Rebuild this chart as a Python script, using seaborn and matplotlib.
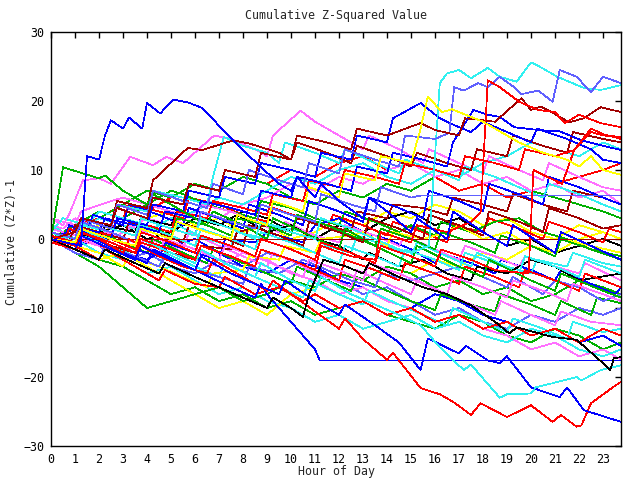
import matplotlib
matplotlib.use("Agg")
import matplotlib.pyplot as plt
import pandas as pd
import seaborn as sns

# ---------------- data ----------------
HOURS = list(range(24)) + [23.75]
X_TICKS = list(range(24))
Y_TICKS = [-30, -20, -10, 0, 10, 20, 30]

# series given as (hour, value) vertices
blue_peak = [(0, 0), (1.25, -1), (1.5, 12), (2, 11.5), (2.25, 15), (2.5, 17.2), (3, 16), (3.25, 17.6), (3.8, 16),
             (4, 19.7), (4.55, 18.2), (5.1, 20.2), (5.7, 19.8), (6.3, 19), (7.2, 15.7), (8.3, 11.9), (9.5, 8),
             (10, 7), (10.25, 9), (11, 6), (11.25, 8), (12, 5.5), (13, 3), (13.25, 6), (14, 4), (15, 1), (15.25, 3),
             (16.5, 0), (16.75, 4), (18, 1), (19, -1), (19.25, 2), (21, -2), (21.25, 1), (23.75, -3)]
green_early = [(0, 0), (0.5, 10.4), (1.33, 9.5), (2, 8.8), (2.25, 9.2), (3, 7), (4, 5), (4.25, 6.5), (5.5, 4),
               (6.5, 2), (6.75, 4), (8, 2), (9, 0), (9.25, 3), (10.5, 1), (12, -1.5), (12.25, 1.5), (13.5, -1),
               (15, -3.5), (15.25, -1), (17, -4), (18, -5.5), (18.25, -3), (20, -6), (21, -7.5), (21.25, -5),
               (23, -7.5), (23.75, -8.5)]
blue_flat_low = [(0, 0), (1, -1.5), (1.25, 1), (3, -2), (4, -3.5), (4.25, -1.5), (6, -4.5), (7.5, -7), (8.5, -8.5),
                 (8.75, -6.5), (9, -8), (10, -12), (11, -16), (11.2, -17.6), (23.75, -17.6)]
mblue_flat = [(0, 1), (1, 0), (1.25, 2.5), (2.5, 1), (3.5, -0.5), (3.75, 3), (5, 1.5), (6, 0.5), (6.25, 4),
              (7.5, 2.5), (8.5, 1.5), (8.75, 5), (10, 3.5), (11, 2.5), (11.25, 6.5), (12.5, 5), (13.5, 4),
              (13.75, 7.5), (15, 6), (15.4, 6.3), (23.75, 6.3)]
red_zero = [(0, 0), (23.75, 0)]
darkred_zero = [(0, 0), (23.75, 0)]
red_bottom = [(0, 0), (0.5, -1), (0.75, 1.5), (2, 0), (3, -2), (3.25, 0), (4.5, -2.5), (5.5, -4), (6.5, -5),
              (6.75, -3), (8, -5.5), (9, -7.5), (9.25, -6), (10, -8), (11, -10.5), (12, -13), (12.25, -11.5),
              (13, -14.5), (14, -17.5), (14.25, -16.5), (15.4, -21.6), (16.2, -22.5), (16.8, -23.7), (17.5, -25.5),
              (17.9, -23.8), (19, -25.8), (20, -24.1), (20.9, -26.5), (21.25, -25.5), (21.9, -27.2), (22.1, -27),
              (22.5, -23.8), (23.45, -21.4), (23.75, -20.7)]
blue_bottom = [(0, 0), (1, -1.5), (1.25, 0.5), (2.5, -1.5), (3.5, -3), (3.75, -1), (5, -3), (6, -4.5), (6.25, -2.5),
               (7.5, -5), (8.5, -6.5), (9.5, -8), (9.75, -6), (11, -9), (12, -11), (12.25, -9.5), (13.5, -12.5),
               (14.5, -15), (15.4, -19), (15.7, -14.4), (17, -16.6), (17.3, -15.5), (18.2, -17.6), (18.7, -18),
               (19, -17), (20, -21.5), (21.2, -22.9), (21.5, -21.5), (22.2, -24.8), (23.75, -26.5)]
cyan_bottom = [(0, 1), (1, -0.5), (1.25, 1.5), (2.5, -0.5), (3.5, -2), (3.75, 0), (5, -2), (6, -3.5), (6.25, -1.5),
               (7.5, -4), (8.5, -5.5), (8.75, -3.5), (10, -6), (11, -7.5), (11.25, -5.5), (12.5, -8), (13.5, -9.5),
               (14.5, -11), (15.4, -12.5), (16.2, -15.7), (17.2, -19), (17.5, -18.2), (18.7, -23), (19, -22.5),
               (20, -22.4), (20.2, -21.5), (20.9, -20.9), (21.9, -20), (22.1, -20.5), (22.9, -19), (23.75, -18.3)]
black_low = [(0, 0), (1, -1.5), (2, -3), (2.25, -1.5), (3.5, -3.5), (4.5, -5), (4.75, -3.5), (6, -5.5), (7, -7),
             (8, -8.5), (9, -10), (9.25, -8.5), (10, -10), (10.5, -11.3), (10.75, -8), (11.35, -3), (12.3, -4),
             (13, -5), (13.25, -3.5), (14.5, -5.5), (15.5, -7), (16.5, -8), (17.5, -9.6), (18.5, -12), (19.1, -13.7),
             (19.4, -12.8), (20.9, -14.2), (21.9, -14.6), (23, -18), (23.3, -19), (23.45, -17.3), (23.75, -17.1)]
cyan_top = [(0, 0), (1, 1), (1.25, 3), (2.5, 1.5), (3.5, 0.5), (3.75, 3), (5, 1.5), (6, 0.5), (6.25, 3), (7.5, 1.5),
            (8.5, 0), (8.75, 2.5), (10, 1), (11, 0), (11.25, 3), (12.5, 1.5), (13.5, 0), (14.5, -1.5), (15, -2),
            (15.75, -1), (16.2, 22.6), (16.5, 24), (17, 24.5), (17.5, 23.3), (18.2, 24.8), (18.7, 23.5),
            (19.4, 22.8), (20, 25.6), (20.4, 24.9), (21.1, 23.5), (22.2, 21.9), (22.9, 21.6), (23.75, 22.3)]
mblue_top = [(0, 1), (1, 0), (1.25, 3), (2.5, 1.5), (2.75, 5), (4, 3.5), (4.25, 7), (5.5, 5.5), (6.5, 4.5),
             (6.75, 8), (8, 6.5), (8.25, 10), (9.5, 8.5), (10.5, 7.5), (10.75, 11), (12, 9.5), (12.25, 13),
             (13.5, 11.5), (14.5, 10.5), (14.75, 15), (16, 14.5), (16.6, 15.4), (16.8, 22), (17.2, 21.5),
             (17.8, 22.6), (18.2, 22), (18.7, 23.5), (19.3, 22), (19.6, 21), (20.3, 21.5), (20.9, 19.9),
             (21.2, 24.5), (21.9, 23.5), (22.5, 21.3), (23, 23.5), (23.75, 22.6)]
darkred_top = [(0, 0), (1, 1), (1.25, 3), (2.5, 2), (2.75, 4.5), (4, 3), (4.25, 6), (5.5, 5), (5.75, 8), (7, 7),
               (7.25, 10), (8.5, 9), (8.75, 12.5), (10, 11.5), (10.25, 15), (11.5, 14), (12.5, 13), (12.75, 16),
               (14, 15), (15.4, 16.8), (16, 15.8), (17, 15), (17.25, 17.5), (18.5, 17), (19.6, 20.4), (20, 18.7),
               (20.4, 19.2), (20.9, 18.3), (21.6, 16.9), (22.2, 17.5), (22.9, 19.1), (23.75, 18.4)]
red_jump = [(0, 0), (1, -1), (1.25, 1), (2.5, -0.5), (3.5, -2), (3.75, 0), (5, -1.5), (6, -3), (6.25, -1),
            (7.5, -2.5), (8.5, -4), (8.75, -1.5), (10, -3), (11, -4.5), (11.25, -1), (12.5, -2.5), (13.5, -3),
            (13.75, 1), (15, -0.5), (15.25, 2), (16.5, 1), (17.5, 2.5), (17.9, 3.8), (18.2, 23), (18.7, 22),
            (19.5, 19.9), (20.3, 18.7), (21, 18.4), (21.4, 16.8), (22, 18), (22.9, 16.8), (23.75, 16.2)]
red_jump2 = [(0, 0.5), (1, -0.5), (1.25, 1.5), (2.5, 0), (3.5, -1.5), (3.75, 1), (5, -0.5), (6, -2), (6.25, 0.5),
             (7.5, -1), (8.5, -2.5), (8.75, 0), (10, -1.5), (11, -3), (11.25, -0.5), (12.5, -2), (13.5, -3.5),
             (13.75, -1), (15, -2.5), (16, -4), (16.25, -1.5), (17.5, -3), (18.5, -4.5), (19.9, -5),
             (20.1, 10), (20.5, 9.3), (21.3, 8), (21.8, 12.9), (22.5, 16), (23, 15.2), (23.75, 14.5)]
yellow_top = [(0, 0), (1, -0.5), (1.25, 1.5), (2.5, 0), (3.5, -1), (3.75, 1.5), (5, 0), (5.25, 2.5), (6.5, 1),
              (7.5, 0), (7.75, 3.5), (9, 2), (9.25, 5.5), (10.5, 4), (10.75, 7.5), (12, 6), (12.25, 9.5),
              (13.5, 8.5), (13.75, 12), (15, 11), (15.4, 16), (15.7, 20.6), (16.3, 18.4), (16.7, 18.8), (17.5, 17.7),
              (18, 17), (18.5, 16), (19.5, 14), (20.5, 12.5), (21.5, 11.5), (22, 10.5), (22.5, 12), (23, 10),
              (23.75, 9.3)]
magenta_up = [(0, 3), (0.5, 2), (0.75, 3.5), (1.33, 8.5), (2, 8.8), (2.5, 8), (3.3, 11.9), (4.25, 10.7),
              (4.8, 11.9), (5.5, 11), (6.8, 15), (7.5, 14.5), (8.5, 13), (9, 12), (9.25, 15), (10.4, 18.6), (11, 17),
              (11.5, 16), (12.5, 14), (13, 13), (13.25, 15), (14.5, 13), (15.5, 11), (15.75, 13), (17, 11),
              (18, 9.5), (18.25, 12), (19.5, 10), (20.5, 8.5), (20.75, 11), (22, 9), (23, 7.5), (23.75, 7)]
cyan_up = [(0, 0), (1, 1), (1.25, 3), (2.5, 2), (2.75, 5), (4, 4), (4.25, 7), (5.5, 6), (6.5, 5), (6.75, 9),
           (7.2, 14.8), (8, 13.5), (9, 12.5), (9.5, 11), (9.75, 14), (11, 12.5), (12, 11), (12.25, 13), (13.5, 11),
           (14.5, 9.5), (14.75, 11.5), (16, 10), (17, 8.5), (17.25, 10.5), (18.5, 9), (19.5, 7.5), (20.5, 6),
           (20.75, 8), (22, 6.5), (23, 5), (23.75, 4)]
darkred_up = [(0, 0), (1, 1), (1.25, 3), (2.5, 2), (2.75, 5.5), (4, 4.5), (4.25, 8.5), (5.7, 13.2), (6.3, 12.9),
              (7.6, 14.3), (8.3, 13.8), (9.5, 12.5), (10, 11.5), (10.25, 14), (11.5, 12.5), (12.5, 11),
              (12.75, 13.5), (14, 12), (15, 10.5), (15.25, 12.5), (16.5, 11), (17.5, 10), (17.75, 13), (19, 12),
              (19.25, 15), (20.5, 13.5), (21.5, 12.5), (21.75, 15.5), (23, 14.5), (23.75, 14)]
red_up = [(0, 0), (1, -0.5), (1.25, 1.5), (2.5, 0.5), (2.75, 3), (4, 2), (5, 1), (5.25, 4), (6.5, 3), (6.75, 5.5),
          (8, 4.5), (9, 3.5), (9.25, 6.5), (10.5, 5.5), (10.75, 8.5), (12, 7.5), (12.25, 10), (13.5, 9), (14.5, 8),
          (14.75, 11), (16, 10), (17, 9), (17.25, 12), (18.5, 11), (19.5, 10), (19.75, 13), (21, 12), (21.8, 12.9),
          (22.5, 15.5), (23, 15), (23.75, 14.8)]
blue_up = [(0, 0), (1, 1.5), (2, 1), (2.25, 3), (3.5, 2), (4.5, 1), (4.75, 4), (6, 3), (6.25, 5.5), (7.5, 4.5),
           (8.5, 3.5), (8.75, 7), (10, 6), (10.25, 9), (11.5, 8), (12.5, 7), (12.75, 10.5), (14, 9.5),
           (14.25, 12.5), (15.5, 11.5), (16.5, 10.5), (16.75, 14), (17.6, 18.7), (18.2, 18), (18.7, 17.7),
           (19.3, 16.2), (20.3, 15.8), (21.2, 15.6), (22.1, 14.3), (23, 13.5), (23.75, 12.9)]
blue_high = [(0, 0), (1, -1), (1.25, 1), (2.5, 0), (2.75, 3), (4, 2), (4.25, 5), (5.5, 4), (5.75, 7), (7, 6),
             (7.25, 9), (8.5, 8), (8.75, 11), (10, 10), (11, 9), (11.25, 12.5), (12.5, 11.5), (12.75, 15), (14, 14),
             (14.25, 17.5), (15.4, 19.7), (16.2, 17.5), (16.8, 16.5), (17.5, 15.5), (18, 17), (19, 15.5), (20, 14),
             (20.25, 16), (21.5, 14.5), (22.5, 13), (23, 11.5), (23.75, 11)]
s1 = [(0, 0), (0.5, -0.5), (0.75, 2), (2, 1), (3, -0.5), (4, -2), (4.25, 0), (5.5, -2), (6.5, -3.5), (6.75, -1.5),
      (8, -3.5), (9, -5), (10, -6.5), (10.25, -4), (11.5, -6), (12.5, -7.5), (12.75, -5.5), (14, -7.5), (15, -9),
      (16, -10.3), (16.25, -8), (17.5, -9.5), (18.5, -10.5), (18.75, -8), (20, -9.5), (21, -11), (21.25, -9),
      (22.5, -11), (22.75, -8.5), (23.75, -9.3)]
s2 = [(0, 2), (0.5, 1.5), (1, 3), (2, 1.5), (3, 0), (3.25, 2), (4.5, 0), (5.5, -1.5), (5.75, 1), (7, -1), (8, -2.5),
      (9, -4), (9.25, -2), (10.5, -4), (11.5, -5.5), (12.5, -7), (12.75, -4.5), (14, -6.5), (15, -8), (15.25, -6),
      (16.5, -8), (17.5, -9.5), (18.5, -11), (18.75, -9), (20, -11), (21, -12.5), (21.25, -10.5), (22.5, -12),
      (23.75, -12.5)]
s3 = [(0, 0), (1, -1.5), (1.25, 0.5), (2.5, -1), (3.5, -2.5), (4.5, -4), (4.75, -2), (6, -4), (7, -5.5), (7.25, -3.5),
      (8.5, -5.5), (9.5, -7), (10.5, -8.5), (10.75, -6), (12, -8), (13, -9.5), (13.25, -7.5), (14.5, -9.5),
      (15.5, -11), (16.5, -12.5), (16.75, -10), (18, -12), (19, -13.5), (19.25, -11.5), (20.5, -13), (21.5, -14.5),
      (21.75, -12), (23, -13.5), (23.75, -13)]
s4 = [(0, 1), (1, 0), (1.25, 2.5), (2, 4), (3, 3), (3.25, 5), (4.5, 4), (5.5, 3), (5.75, 6), (7, 5), (8, 3.5),
      (9, 2.5), (9.25, 4.5), (10.5, 3), (11.5, 1.5), (11.75, 3.5), (13, 2), (14, 0.5), (14.25, 2.5), (15.5, 1),
      (16.5, -0.5), (16.75, 2), (18, 1), (18.25, 3), (19.5, 1.5), (20.5, 0), (20.75, 2.5), (22, 1), (23, -0.5),
      (23.25, 1.5), (23.75, 1)]
s5 = [(0, 0), (1, 2), (2, 4), (3, 3), (4, 5), (5, 7), (5.5, 6.5), (6.5, 5), (7.5, 4), (8.5, 3), (8.75, 5.5),
      (10, 4.5), (11, 3), (12, 2), (12.25, 4), (13.5, 2.5), (14.5, 1), (15, 2), (16, 0.5), (16.25, 2.5), (17.5, 1),
      (18.5, 2.5), (19.5, 3), (20.5, 1), (21.5, 0), (22.5, -1.5), (23.75, -3)]
s6 = [(0, 0), (1, -1), (1.25, 1), (2.5, 0), (3.5, -1.5), (4.5, -2.5), (4.75, -0.5), (6, -2), (7, -3), (7.25, 0),
      (8.5, -0.5), (9, 1), (10.5, -0.5), (11, 2), (12, 3), (13, 1), (14, 0), (15, -1.5), (16, -3.5), (16.25, -2),
      (17.5, -3.5), (18.5, -5), (18.75, -3), (20, -4.5), (21, -6), (21.25, -4.5), (22.5, -6.5), (23.5, -8),
      (23.75, -7)]
s7 = [(0, 3), (1, 2), (1.25, 4), (2.5, 5.5), (3, 6), (4, 5), (5, 4), (6, 3), (6.25, 5), (7.5, 4), (8.5, 2.5),
      (9.5, 1), (9.75, 2.5), (11, 0.5), (12, -0.5), (12.25, 2), (13.5, 0.5), (14.5, -1), (14.75, 0.5), (16, -1.5),
      (17, -3), (17.25, -1), (18.5, -2.5), (19.5, -4), (19.75, -2.5), (21, -4), (22, -5), (22.25, -3.5), (23.75, -6)]
s8 = [(0, 1), (0.5, 3), (1.5, 2), (2, 4), (3, 3), (4, 2), (5, 0.5), (5.25, 2), (6.5, 0), (7.5, -1), (7.75, 1),
      (9, 0), (9.25, 2), (10.5, 1), (11.5, -1), (12.5, -2), (12.75, 0.5), (14, -1), (15, -2.5), (15.25, -0.5),
      (16.5, -2.5), (17.5, -4), (17.75, -2), (19, -4), (20, -5), (20.25, -3), (21.5, -4), (21.75, -2), (23, -3.5),
      (23.75, -4)]
s9 = [(0, 0), (1, -1), (1.25, 1), (2.5, -1), (3.5, -2), (3.75, 0), (5, -2), (6, -3), (6.25, -1), (7.5, -1.5),
      (7.75, 1), (9, 2), (10, 1), (10.25, 3), (11.5, 2), (12.5, 1), (12.75, 4), (14, 3), (14.25, 5), (15.5, 4.5),
      (16.5, 3.5), (16.75, 6), (18, 5), (19, 4), (19.25, 6.5), (20.5, 5), (21.5, 4), (21.75, 7), (23, 6), (23.75, 5)]
s10 = [(0, 0), (1, -1), (2, -2), (3, -4), (3.25, -2.5), (4.5, -4), (5.5, -5.5), (6.5, -7), (6.75, -5), (8, -4.5),
       (8.25, -2.5), (9.5, -3), (9.75, -1), (11, -2), (11.25, 0), (12.5, 0.5), (13, 1), (14, -1), (14.25, 1),
       (15.5, 0), (16.5, 1), (17, 2), (18, 0), (19, 1), (20, -1), (21, -2), (21.25, 0), (22.5, -1), (23.75, -2)]
s11 = [(0, 0), (1, -2), (2, -3), (2.25, -1), (3.5, -2.5), (4.5, -4), (4.75, -2.5), (6, -4.5), (7, -5.5), (8, -6.5),
       (8.25, -4), (9.5, -5), (10.5, -3), (11.5, -4.5), (12.5, -6), (13.5, -7), (13.75, -5), (15, -6), (16, -5),
       (17, -4), (18, -5.5), (19, -7), (19.25, -5.5), (20.5, -8), (21, -6), (22, -7), (23, -9), (23.75, -8)]
s12 = [(0, 0), (1, 1), (2, 0), (2.25, 2), (3.5, 1), (3.75, 3), (5, 2), (5.25, 4), (6.5, 3), (7.5, 1.5), (7.75, 3.5),
       (9, 1), (10, 2), (11, 0), (12, -1), (13, -3), (13.25, -2), (14.5, -4), (15.5, -3), (16.5, -5), (17.5, -6),
       (17.75, -4), (19, -5), (20, -3), (21, -4), (22, -6), (23.75, -5)]
s13 = [(0, 0), (1, -1), (2, -3), (2.25, -1.5), (3.5, -4), (4.5, -6), (4.75, -4.5), (6, -6.5), (7, -7), (7.25, -5.5),
       (8.5, -8), (9.5, -7), (10.5, -9), (11, -8), (12, -10), (13, -9), (14, -11), (15, -10), (16, -12), (17, -11),
       (18, -13), (19, -12), (20, -14), (21, -13), (22, -15), (23, -13), (23.75, -14)]
s14 = [(0, 0.5), (0.5, -0.5), (0.75, 2), (1.5, 1), (1.75, 3.5), (3, 2), (3.25, 5), (4.5, 3.5), (5.5, 2), (5.75, 4.5),
       (7, 3), (8, 1.5), (8.25, 5), (9.5, 3.5), (10.5, 2), (10.75, 5.5), (12, 4), (13, 2.5), (13.25, 6), (14.5, 4.5),
       (15.5, 3), (15.75, 7), (17, 5.5), (18, 4), (18.25, 8), (19.5, 6.5), (20.5, 5), (20.75, 9), (22, 7.5), (23, 6),
       (23.75, 5)]
s15 = [(0, -0.5), (1, -1.5), (1.25, 0), (2.5, -1.5), (3.5, -3), (3.75, -0.5), (5, -2), (6, -3.5), (6.25, -1),
       (7.5, -2.5), (8.5, -4), (8.75, -1.5), (10, -3), (11, -4.5), (12, -6), (12.25, -3), (13.5, -4.5), (14.5, -6),
       (14.75, -3.5), (16, -5), (17, -6.5), (17.25, -4), (18.5, -5.5), (19.5, -7), (19.75, -4.5), (21, -6),
       (22, -7.5), (22.25, -5), (23.75, -7)]
s16 = [(0, 1.5), (1, 0.5), (2, -1), (2.25, 1), (3.5, -0.5), (4.5, -2), (4.75, 0), (6, -1.5), (7, -3), (7.25, -1),
       (8.5, -2.5), (9.5, -4), (10.5, -5.5), (10.75, -3), (12, -4.5), (13, -6), (13.25, -3.5), (14.5, -5),
       (15.5, -6.5), (16.5, -8), (16.75, -5.5), (18, -7), (19, -8.5), (19.25, -6), (20.5, -7.5), (21.5, -9),
       (21.75, -6.5), (23, -8), (23.75, -9)]
s17 = [(0, 0), (1, -1), (1.25, 1.5), (2.5, 0.5), (2.75, 3), (4, 2), (5, 0.5), (5.25, 3), (6.5, 2), (7.5, 0.5),
       (7.75, 3), (9, 2), (10, 0.5), (10.25, 3.5), (11.5, 2), (12.5, 0.5), (13.5, -1), (13.75, 1.5), (15, 0),
       (16, -1.5), (16.25, 1), (17.5, -0.5), (18.5, -2), (18.75, 0.5), (20, -1), (21, -2.5), (21.25, 0),
       (22.5, -1.5), (23.75, -2.5)]
s18 = [(0, 0), (0.75, -0.5), (1, 2), (2, 1), (3, 0), (3.25, 2.5), (4.5, 1), (5.5, -0.5), (5.75, 2), (7, 0.5),
       (8, -1), (8.25, 2), (9.5, 0.5), (10.5, -1), (10.75, 2.5), (12, 1), (13, -0.5), (13.25, 3), (14.5, 1.5),
       (15.5, 0), (15.75, 3.5), (17, 2), (18, 0.5), (18.25, 4), (19.5, 2.5), (20.5, 1), (20.75, 4.5), (22, 3),
       (23, 1.5), (23.75, 2)]
s19 = [(0, 0.5), (1, -0.5), (1.25, 2), (2.5, 1), (3.5, -0.5), (3.75, 2), (5, 0.5), (6, -1), (6.25, 1.5), (7.5, 0),
       (8.5, -1.5), (8.75, 1), (10, -0.5), (11, -2), (12, -3.5), (12.25, -1), (13.5, -2.5), (14.5, -4),
       (14.75, -1.5), (16, -3), (17, -4.5), (17.25, -2), (18.5, -3.5), (19.5, -5), (19.75, -2.5), (21, -4),
       (22, -5.5), (22.25, -3), (23.75, -5)]

# series given as hourly values at HOURS
h1 = [1, 0, 2, 1, 3, 4, 2, 3, 1, 2, 0, 1, 3, 2, 4, 3, 5, 4, 2, 3, 1, 0, 2, 1, 0]
h2 = [0, 1, -1, -3, -2, -4, -5, -3, -4, -2, -3, -5, -6, -8, -7, -9, -11, -10, -12, -13, -11, -12, -10, -11, -10]
h3 = [0, 2, 3, 5, 4, 6, 8, 7, 9, 8, 10, 9, 11, 12, 10, 11, 9, 7, 8, 6, 7, 8, 9, 10, 11]
h4 = [0, -1, -3, -4, -6, -8, -7, -9, -8, -10, -9, -11, -10, -9, -11, -12, -13, -11, -12, -14, -15, -13, -14, -16, -15]
h5 = [0, -1, 0, -2, -3, -1, 0, -2, -4, -5, -3, -4, -6, -7, -9, -10, -8, -9, -11, -12, -14, -13, -15, -14, -15.5]
h6 = [0, 1, -1, -2, 0, -1, -3, -4, -2, -3, -5, -6, -8, -7, -9, -10, -12, -11, -13, -14, -16, -15, -17, -16, -17.5]
h7 = [0, -1, 1, 2, 0, 1, 3, 2, 4, 3, 1, 0, 2, 1, 3, 4, 2, 3, 1, -1, 0, -2, -1, 0, -1]
h8 = [2, 0, -2, -3, -5, -4, -6, -8, -7, -9, -10, -12, -11, -13, -12, -11, -13, -12, -14, -15, -13, -14, -16, -17, -16]
h9 = [0, -1, -3, -2, -4, -6, -8, -10, -9, -11, -8, -7, -5, -6, -4, -5, -3, -4, -2, -3, -1, -2, 0, 1, 0]
h10 = [0, 1, 3, 5, 7, 6, 8, 7, 9, 8, 6, 5, 7, 6, 8, 7, 9, 10, 8, 9, 7, 6, 5, 4, 3]
h11 = [0, -2, -4, -7, -10, -9, -8, -7, -9, -8, -6, -7, -5, -6, -4, -5, -7, -6, -8, -7, -9, -8, -6, -7, -8]
h12 = [1, 0, -1, 1, 3, 2, 4, 3, 5, 6, 8, 7, 9, 8, 10, 11, 9, 10, 8, 9, 7, 8, 6, 7, 5]
h13 = [0, 1, 3, 2, 1, 3, 4, 6, 5, 7, 9, 8, 10, 11, 9, 8, 10, 9, 11, 12, 14, 13, 12, 14, 13]

VERTEX_SERIES = [
    ("s1", "green", s1), ("s2", "magenta", s2), ("s3", "cyan", s3), ("s4", "red", s4),
    ("s5", "green", s5), ("s6", "blue", s6), ("s7", "magenta", s7), ("s8", "cyan", s8),
    ("s9", "darkred", s9), ("s10", "yellow", s10), ("s11", "mblue", s11), ("s12", "black", s12),
    ("s13", "red", s13), ("s14", "blue", s14), ("s15", "red", s15), ("s16", "magenta", s16),
    ("s17", "green", s17), ("s18", "darkred", s18), ("s19", "cyan", s19),
    ("magenta_up", "magenta", magenta_up), ("cyan_up", "cyan", cyan_up),
    ("darkred_up", "darkred", darkred_up), ("red_up", "red", red_up),
    ("blue_up", "blue", blue_up), ("blue_high", "blue", blue_high),
    ("green_early", "green", green_early), ("blue_flat_low", "blue", blue_flat_low),
    ("mblue_flat", "mblue", mblue_flat), ("red_zero", "red", red_zero),
    ("darkred_zero", "darkred", darkred_zero), ("red_bottom", "red", red_bottom),
    ("blue_bottom", "blue", blue_bottom), ("cyan_bottom", "cyan", cyan_bottom),
    ("black_low", "black", black_low), ("cyan_top", "cyan", cyan_top),
    ("mblue_top", "mblue", mblue_top), ("darkred_top", "darkred", darkred_top),
    ("red_jump", "red", red_jump), ("red_jump2", "red", red_jump2), ("yellow_top", "yellow", yellow_top),
    ("blue_peak", "blue", blue_peak),
]
HOURLY_SERIES = [
    ("h1", "yellow", h1), ("h2", "mblue", h2), ("h3", "red", h3), ("h4", "green", h4),
    ("h5", "blue", h5), ("h6", "magenta", h6), ("h7", "black", h7), ("h8", "cyan", h8),
    ("h9", "yellow", h9), ("h10", "green", h10), ("h11", "green", h11), ("h12", "magenta", h12),
    ("h13", "cyan", h13),
]

COLOR_HEX = {
    "red": "#ff0000", "green": "#00b000", "blue": "#0000ff", "magenta": "#ff70ff",
    "cyan": "#30f0f0", "darkred": "#a00000", "yellow": "#ffff00", "mblue": "#6060ff",
    "black": "#000000",
}

# ---------------- build long table ----------------
rows = []
order = []
palette = {}
for name, ckey, vals in HOURLY_SERIES:
    for h, v in zip(HOURS, vals):
        rows.append({"series": name, "hour": h, "value": v})
    order.append(name)
    palette[name] = COLOR_HEX[ckey]
for name, ckey, pts in VERTEX_SERIES:
    for h, v in pts:
        rows.append({"series": name, "hour": h, "value": v})
    order.append(name)
    palette[name] = COLOR_HEX[ckey]
df = pd.DataFrame(rows)

sns.set_theme(style="white")
plt.rcParams["font.family"] = ["DejaVu Sans Mono", "DejaVu Sans"]

fig = plt.figure(figsize=(6.4, 4.8), dpi=100)
ax = fig.add_axes([51 / 640, 1 - 446 / 480, 570 / 640, 414 / 480])

sns.lineplot(data=df, x="hour", y="value", hue="series", palette=palette,
             hue_order=order, estimator=None, sort=False,
             legend=False, linewidth=0.5, ax=ax)
for ln in ax.get_lines():
    ln.set_antialiased(False)

ax.set_xlim(0, 23.75)
ax.set_ylim(-30, 30)
ax.set_xticks(X_TICKS)
ax.set_yticks(Y_TICKS)
ax.set_xlabel("")
ax.set_ylabel("")
ax.tick_params(direction="in", length=4.5, width=1, color="black",
               top=True, right=True, labelsize=8.4, pad=5, labelcolor="black")
for sp in ax.spines.values():
    sp.set_color("black")
    sp.set_linewidth(1)
    sp.set_visible(True)
ax.grid(False)
ax.set_facecolor("white")

fig.text(336 / 640, 1 - 15 / 480, "Cumulative Z-Squared Value", ha="center", va="center", fontsize=8.4)
fig.text(336 / 640, 1 - 472 / 480, "Hour of Day", ha="center", va="center", fontsize=8.4)
fig.text(12 / 640, 1 - 242 / 480, "Cumulative (Z*Z)-1", ha="center", va="center",
         rotation=90, fontsize=8.4)

fig.savefig("out.png", dpi=100, facecolor="white")
